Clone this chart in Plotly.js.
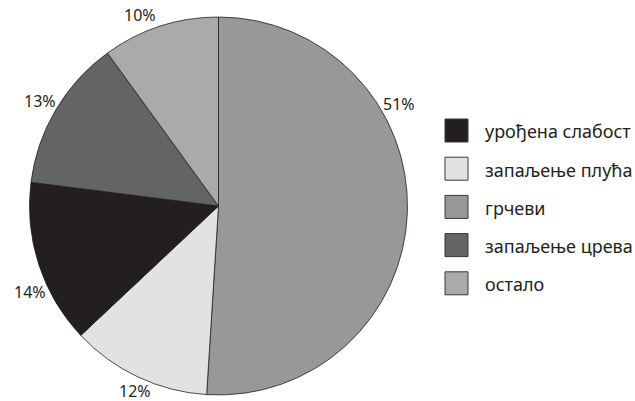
<!DOCTYPE html>
<html><head><meta charset="utf-8">
<script src="https://cdn.plot.ly/plotly-3.0.1.min.js"></script>
<style>html,body{margin:0;padding:0;background:#fff}#c{width:635px;height:401px}</style>
</head><body><div id="c"></div>
<script>
// slices, clockwise from 12 o'clock
const sliceLabels = ['грчеви', 'запаљење плућа', 'урођена слабост', 'запаљење црева', 'остало'];
const sliceValues = [51, 12, 14, 13, 10];
const sliceColors = ['#97989a', '#e1e2e3', '#231f20', '#636466', '#a9aaac'];
// legend order
const legendLabels = ['урођена слабост', 'запаљење плућа', 'грчеви', 'запаљење црева', 'остало'];

const W = 635, H = 401;
const FONT = 'Noto Sans, sans-serif';
const INK = '#231f20';
// pie placement (px)
const PIE = {x0: 29, x1: 408, top: 17, bottom: 395};
// where along each slice (fraction of its arc) the percent label sits
const LABEL_FRAC = [0.33, 0.47, 0.37, 0.5, 0.38];
const LABEL_R = 1.095;

const domX = [PIE.x0 / W, PIE.x1 / W];
const domY = [1 - PIE.bottom / H, 1 - PIE.top / H];
const cx = (PIE.x0 + PIE.x1) / 2, cy = (PIE.top + PIE.bottom) / 2;
const rad = Math.min(PIE.x1 - PIE.x0, PIE.bottom - PIE.top) / 2;

const total = sliceValues.reduce((a, b) => a + b, 0);
const annotations = [];
let cum = 0;
sliceValues.forEach((v, i) => {
  const a0 = cum / total * 360, a1 = (cum + v) / total * 360;
  cum += v;
  const ang = (a0 + (a1 - a0) * LABEL_FRAC[i]) * Math.PI / 180;
  const px = cx + Math.sin(ang) * rad * LABEL_R;
  let py = cy - Math.cos(ang) * rad * LABEL_R;
  py = Math.max(12, Math.min(H - 10, py));
  annotations.push({
    xref: 'paper', yref: 'paper', x: px / W, y: 1 - py / H,
    xanchor: 'center', yanchor: 'middle', showarrow: false,
    text: Math.round(v / total * 100) + '%',
    font: {family: FONT, size: 16, color: INK}
  });
});

// legend (drawn as shapes + text so swatch size matches)
const shapes = [];
const LEG = {x0: 445, size: 23, y0: 130.5, step: 38.2, textX: 483};
legendLabels.forEach((lab, i) => {
  const col = sliceColors[sliceLabels.indexOf(lab)];
  const yc = LEG.y0 + LEG.step * i;
  shapes.push({
    type: 'rect', xref: 'paper', yref: 'paper',
    x0: LEG.x0 / W, x1: (LEG.x0 + LEG.size) / W,
    y0: 1 - (yc + LEG.size / 2) / H, y1: 1 - (yc - LEG.size / 2) / H,
    fillcolor: col, line: {color: '#3a3637', width: 1}
  });
  annotations.push({
    xref: 'paper', yref: 'paper', x: LEG.textX / W, y: 1 - (yc + 1) / H,
    xanchor: 'left', yanchor: 'middle', showarrow: false, text: lab,
    font: {family: FONT, size: 18, color: INK}
  });
});

const traces = [{
  type: 'pie',
  labels: sliceLabels,
  values: sliceValues,
  sort: false,
  direction: 'clockwise',
  rotation: 0,
  marker: {colors: sliceColors, line: {color: INK, width: 0.8}},
  textinfo: 'none',
  domain: {x: domX, y: domY},
  showlegend: false,
  hoverinfo: 'label+percent'
}];

Plotly.newPlot('c', traces, {
  width: W, height: H,
  margin: {l: 0, r: 0, t: 0, b: 0},
  paper_bgcolor: '#fff', plot_bgcolor: '#fff',
  showlegend: false,
  annotations: annotations,
  shapes: shapes
}, {staticPlot: true});
</script></body></html>
